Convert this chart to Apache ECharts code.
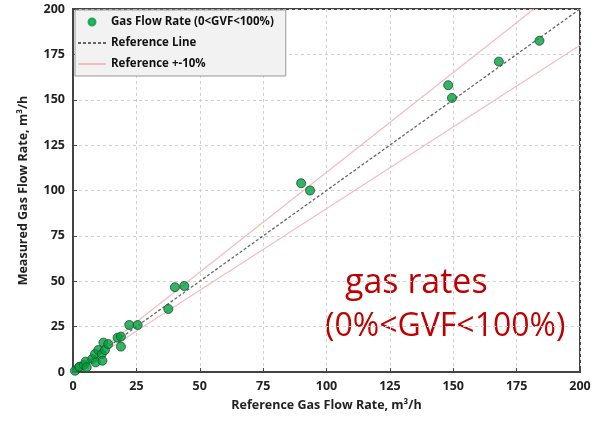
<!DOCTYPE html>
<html><head><meta charset="utf-8">
<script src="https://cdn.jsdelivr.net/npm/echarts@6/dist/echarts.min.js"></script>
<style>html,body{margin:0;padding:0;background:#fff}#c{width:594px;height:424px}</style>
</head><body><div id="c"></div>
<script>
const refX = [0.8,2.4,2.5,4.3,5.0,5.4,7.6,8.7,9.0,10.0,11.3,11.6,12.0,12.6,13.9,17.6,18.9,18.9,22.2,25.5,37.6,40.2,43.9,90.0,93.5,148.0,149.5,168.0,184.0];
const measured = [0.7,2.6,2.9,3.9,5.7,2.6,7.2,9.9,5.3,12.1,9.9,6.2,16.2,12.1,15.4,18.9,19.5,14.0,25.9,25.9,34.7,46.7,47.4,104.0,100.0,158.0,151.0,171.0,182.5];
const axisTicks = [0,25,50,75,100,125,150,175,200];
const refLineX = [0,200];
const tolerance = 0.10;
const seriesNames = ['Gas Flow Rate (0<GVF<100%)','Reference Line','Reference +-10%'];
const noteLines = ['gas rates','(0%<GVF<100%)'];

const axMax = axisTicks[axisTicks.length-1];
const pts = refX.map((x,i)=>[x,measured[i]]);
const ref = refLineX.map(x=>[x,x]);
const upper = refLineX.map(x=>[Math.min(x, axMax/(1+tolerance)), Math.min(x, axMax/(1+tolerance))*(1+tolerance)]);
const lower = refLineX.map(x=>[x, x*(1-tolerance)]);
const font = 'Open Sans, Liberation Sans, sans-serif';
const pink = '#f3bcbc';
const chart = echarts.init(document.getElementById('c'));
const axisCommon = {
  min:0,max:axMax,interval:25,
  axisLine:{show:true,onZero:false,lineStyle:{color:'#444',width:2}},
  axisTick:{show:true,inside:true,length:4,lineStyle:{color:'#444'}},
  splitLine:{show:true,lineStyle:{color:'#d0d0d0',type:[3,3],width:1}},
  axisLabel:{color:'#222',fontWeight:'bold',fontSize:12.5,fontFamily:font},
  nameLocation:'middle',
  nameTextStyle:{color:'#222',fontWeight:'bold',fontSize:12.5,fontFamily:font}
};
chart.setOption({
  animation:false,
  grid:{left:73,right:14,top:9,bottom:52,show:true,borderColor:'#444',borderWidth:2},
  legend:{
    left:75,top:10,orient:'vertical',itemGap:9,itemWidth:28,itemHeight:7,
    backgroundColor:'#f2f2f2',borderColor:'#999',borderWidth:1,padding:[6,12,6,2],borderRadius:0,
    textStyle:{color:'#111',fontWeight:'bold',fontSize:11.5,fontFamily:font},
    data:[{name:seriesNames[0],icon:'circle',itemStyle:{color:'#00a040',borderColor:'#00a040'}},
          {name:seriesNames[1],itemStyle:{opacity:0}},
          {name:seriesNames[2],itemStyle:{opacity:0}}]
  },
  xAxis:Object.assign({},axisCommon,{name:'Reference Gas Flow Rate, m³/h',nameGap:27}),
  yAxis:Object.assign({},axisCommon,{name:'Measured Gas Flow Rate, m³/h',nameGap:43}),
  series:[
    {name:seriesNames[2],type:'line',data:upper,symbol:'none',itemStyle:{color:pink},lineStyle:{color:pink,width:1.2},z:1},
    {name:seriesNames[2]+' ',type:'line',data:lower,symbol:'none',itemStyle:{color:pink},lineStyle:{color:pink,width:1.2},z:1},
    {name:seriesNames[1],type:'line',data:ref,symbol:'none',itemStyle:{color:'#666'},lineStyle:{color:'#666',width:1.3,type:[3,2]},z:2},
    {name:seriesNames[0],type:'scatter',data:pts,symbolSize:9,itemStyle:{color:'#00a040',borderColor:'#1a4d2a',borderWidth:1},z:3}
  ],
  graphic:[
    {type:'text',left:345,top:266,style:{text:noteLines[0],fill:'#c00000',font:'34px '+font}},
    {type:'text',left:325,top:311,style:{text:noteLines[1],fill:'#c00000',font:'32px '+font}}
  ]
});
</script></body></html>
